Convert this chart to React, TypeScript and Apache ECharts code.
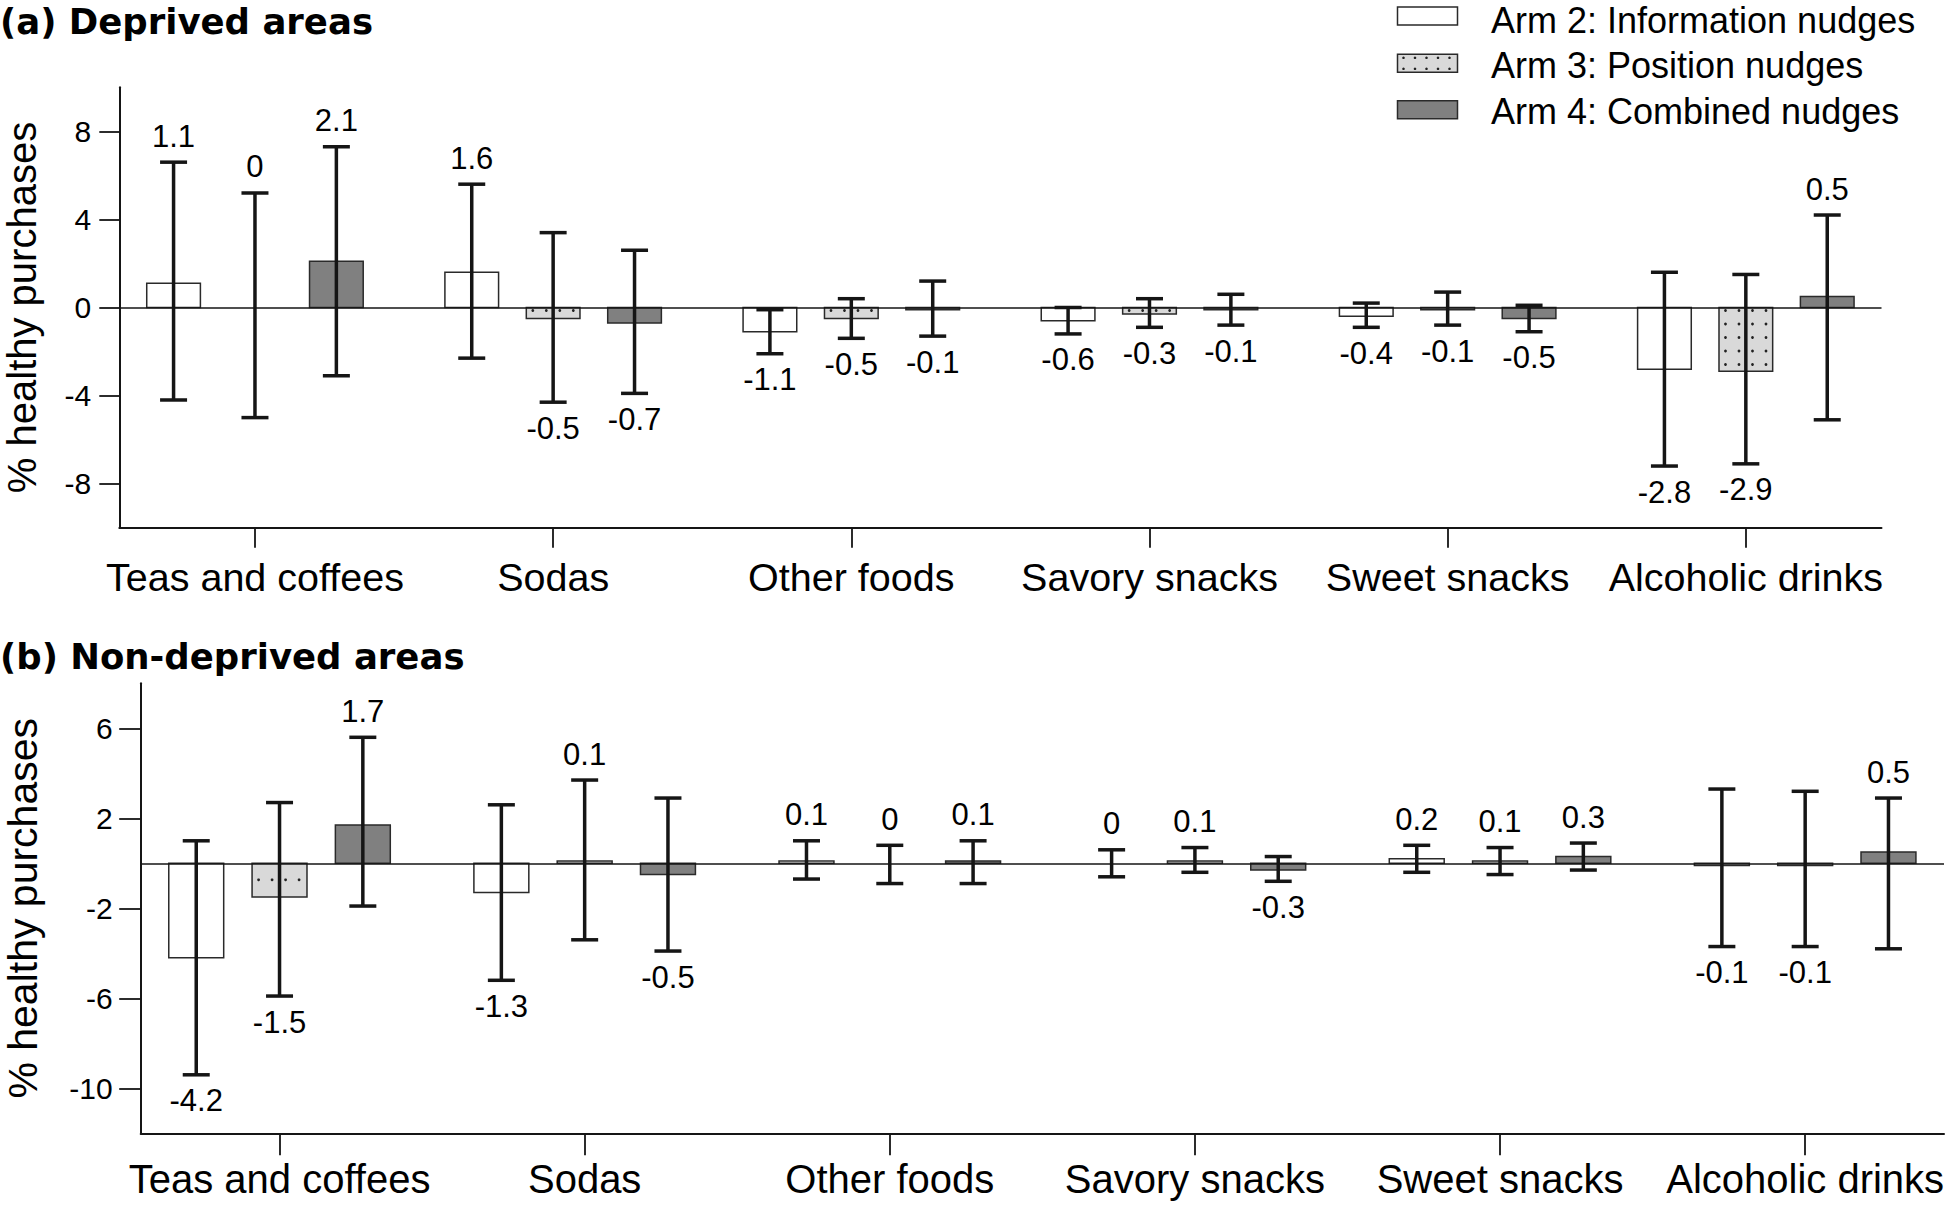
import React, { useEffect, useRef } from "react";
import * as echarts from "echarts";

// ---------- data ----------
const categories = [
  "Teas and coffees",
  "Sodas",
  "Other foods",
  "Savory snacks",
  "Sweet snacks",
  "Alcoholic drinks",
];
const armNames = [
  "Arm 2: Information nudges",
  "Arm 3: Position nudges",
  "Arm 4: Combined nudges",
];
const panelTitles = ["(a) Deprived areas", "(b) Non-deprived areas"];
const yTitle = "% healthy purchases";
const deprivedTicks = [-8, -4, 0, 4, 8];
const nonDeprivedTicks = [-10, -6, -2, 2, 6];

// (a) Deprived areas
const arm2Deprived = [1.1, 1.6, -1.1, -0.6, -0.4, -2.8];
const arm2DeprivedLow = [-4.2, -2.3, -2.1, -1.2, -0.9, -7.2];
const arm2DeprivedHigh = [6.6, 5.6, -0.1, 0.0, 0.2, 1.6];
const arm3Deprived = [0, -0.5, -0.5, -0.3, -0.1, -2.9];
const arm3DeprivedLow = [-5.0, -4.3, -1.4, -0.9, -0.8, -7.1];
const arm3DeprivedHigh = [5.2, 3.4, 0.4, 0.4, 0.7, 1.5];
const arm4Deprived = [2.1, -0.7, -0.1, -0.1, -0.5, 0.5];
const arm4DeprivedLow = [-3.1, -3.9, -1.3, -0.8, -1.1, -5.1];
const arm4DeprivedHigh = [7.3, 2.6, 1.2, 0.6, 0.1, 4.2];

// (b) Non-deprived areas
const arm2NonDeprived = [-4.2, -1.3, 0.1, 0, 0.2, -0.1];
const arm2NonDeprivedLow = [-9.4, -5.2, -0.7, -0.6, -0.4, -3.7];
const arm2NonDeprivedHigh = [1.0, 2.6, 1.0, 0.6, 0.8, 3.3];
const arm3NonDeprived = [-1.5, 0.1, 0, 0.1, 0.1, -0.1];
const arm3NonDeprivedLow = [-5.9, -3.4, -0.9, -0.4, -0.5, -3.7];
const arm3NonDeprivedHigh = [2.7, 3.7, 0.8, 0.7, 0.7, 3.2];
const arm4NonDeprived = [1.7, -0.5, 0.1, -0.3, 0.3, 0.5];
const arm4NonDeprivedLow = [-1.9, -3.9, -0.9, -0.8, -0.3, -3.8];
const arm4NonDeprivedHigh = [5.6, 2.9, 1.0, 0.3, 0.9, 2.9];

// ---------- styling / layout ----------
const FONT = "'Liberation Sans', Arial, Helvetica, sans-serif";
const TITLE_FONT = "'DejaVu Sans', 'Liberation Sans', Arial, sans-serif";
const INK = "#151515";
const FILLS = ["#ffffff", "#d9d9d9", "#808080"];
const X_MIN = -0.455;
const X_MAX = 5.455;
const ARM_OFFSETS = [-0.273, 0, 0.273];
const BAR_WIDTH = 0.18;
const CAP_HALF = 13.5;
const LABEL_GAP = 26;
const VALUE_FONT = 31;
const TICK_FONT = 30;

const panelLayout = [
  {
    grid: { left: 119.3, top: 87.3, width: 1762.2, height: 440.4 },
    yMin: -10, yMax: 10, ticks: deprivedTicks,
    catFont: 39.5, catMargin: 29, xTickLen: 20, yTickLen: 20,
    nameFont: 40, nameGap: 77, titleY: 21,
  },
  {
    grid: { left: 140.7, top: 683.3, width: 1803.3, height: 450 },
    yMin: -12, yMax: 8, ticks: nonDeprivedTicks,
    catFont: 40, catMargin: 26, xTickLen: 22, yTickLen: 21.5,
    nameFont: 41, nameGap: 97, titleY: 656,
  },
];

const panelData = [
  [
    { v: arm2Deprived, lo: arm2DeprivedLow, hi: arm2DeprivedHigh },
    { v: arm3Deprived, lo: arm3DeprivedLow, hi: arm3DeprivedHigh },
    { v: arm4Deprived, lo: arm4DeprivedLow, hi: arm4DeprivedHigh },
  ],
  [
    { v: arm2NonDeprived, lo: arm2NonDeprivedLow, hi: arm2NonDeprivedHigh },
    { v: arm3NonDeprived, lo: arm3NonDeprivedLow, hi: arm3NonDeprivedHigh },
    { v: arm4NonDeprived, lo: arm4NonDeprivedLow, hi: arm4NonDeprivedHigh },
  ],
];

function dotsInRect(x0: number, x1: number, yStart: number, yEnd: number, dir: number) {
  const out: any[] = [];
  for (let y = yStart + dir * 3; dir > 0 ? y < yEnd - 2 : y > yEnd + 2; y += dir * 13.5) {
    for (let x = x0 + 6.5; x < x1 - 3; x += 13.5) {
      out.push({
        type: "circle",
        shape: { cx: x, cy: y, r: 1.4 },
        style: { fill: "#222" },
        silent: true,
      });
    }
  }
  return out;
}

function makeRenderItem(arm: number) {
  return (params: any, api: any) => {
    const cat = api.value(0);
    const val = api.value(1);
    const lo = api.value(2);
    const hi = api.value(3);
    const xPos = cat + ARM_OFFSETS[arm];
    const p0 = api.coord([xPos, 0]);
    const xc = p0[0];
    const y0 = p0[1];
    const yv = api.coord([xPos, val])[1];
    const yLo = api.coord([xPos, lo])[1];
    const yHi = api.coord([xPos, hi])[1];
    const bw = api.size([BAR_WIDTH, 0])[0];
    const children: any[] = [];
    if (Math.abs(val) > 1e-9) {
      children.push({
        type: "rect",
        shape: { x: xc - bw / 2, y: Math.min(y0, yv), width: bw, height: Math.abs(yv - y0) },
        style: { fill: FILLS[arm], stroke: "#2a2a2a", lineWidth: 1.5 },
      });
      if (arm === 1 && Math.abs(yv - y0) > 5) {
        const dir = yv > y0 ? 1 : -1;
        children.push(...dotsInRect(xc - bw / 2, xc + bw / 2, y0, yv, dir));
      }
    }
    const lineStyle = { stroke: INK, lineWidth: 3.5 };
    children.push({ type: "line", shape: { x1: xc, y1: yLo, x2: xc, y2: yHi }, style: lineStyle });
    children.push({ type: "line", shape: { x1: xc - CAP_HALF, y1: yLo, x2: xc + CAP_HALF, y2: yLo }, style: lineStyle });
    children.push({ type: "line", shape: { x1: xc - CAP_HALF, y1: yHi, x2: xc + CAP_HALF, y2: yHi }, style: lineStyle });
    const labelY = val >= 0 ? yHi - LABEL_GAP : yLo + LABEL_GAP;
    children.push({
      type: "text",
      style: {
        text: String(val),
        x: xc,
        y: labelY,
        align: "center",
        textAlign: "center",
        verticalAlign: "middle",
        textVerticalAlign: "middle",
        fontSize: VALUE_FONT,
        fontFamily: FONT,
        fill: "#000",
      },
    });
    return { type: "group", children };
  };
}

function buildOption() {
  const grid = panelLayout.map((p) => ({ ...p.grid, containLabel: false, outerBoundsMode: "none" }));
  const xAxis = panelLayout.map((p, i) => ({
    type: "value",
    gridIndex: i,
    min: X_MIN,
    max: X_MAX,
    axisLine: { show: true, onZero: false, lineStyle: { color: INK, width: 2 } },
    axisTick: {
      show: true,
      length: p.xTickLen,
      customValues: categories.map((_, k) => k),
      lineStyle: { color: INK, width: 1.8 },
    },
    axisLabel: {
      show: true,
      customValues: categories.map((_, k) => k),
      formatter: (v: number) => categories[Math.round(v)] ?? "",
      fontSize: p.catFont,
      margin: p.catMargin,
      color: "#000",
      fontFamily: FONT,
    },
    splitLine: { show: false },
  }));
  const yAxis = panelLayout.map((p, i) => ({
    type: "value",
    gridIndex: i,
    min: p.yMin,
    max: p.yMax,
    axisLine: { show: true, onZero: false, lineStyle: { color: INK, width: 2 } },
    axisTick: {
      show: true,
      length: p.yTickLen,
      customValues: p.ticks,
      lineStyle: { color: INK, width: 1.8 },
    },
    axisLabel: {
      show: true,
      customValues: p.ticks,
      fontSize: TICK_FONT,
      margin: 28,
      color: "#000",
      fontFamily: FONT,
    },
    splitLine: { show: false },
    name: yTitle,
    nameLocation: "middle",
    nameGap: p.nameGap,
    nameTextStyle: { fontSize: p.nameFont, color: "#000", fontFamily: FONT },
  }));

  const series: any[] = [];
  panelData.forEach((arms, pi) => {
    arms.forEach((arm, ai) => {
      series.push({
        type: "custom",
        name: armNames[ai],
        xAxisIndex: pi,
        yAxisIndex: pi,
        renderItem: makeRenderItem(ai),
        encode: { x: 0, y: 1 },
        data: categories.map((_, k) => [k, arm.v[k], arm.lo[k], arm.hi[k]]),
        clip: false,
        z: 2 + ai,
        markLine:
          ai === 0
            ? {
                silent: true,
                symbol: "none",
                label: { show: false },
                lineStyle: { color: INK, width: 1.5, type: "solid" },
                data: [{ yAxis: 0 }],
                z: 10,
              }
            : undefined,
      });
    });
  });

  // legend drawn as graphic (swatch + real text)
  const legendBoxY = [7, 54.3, 100.7];
  const legendTextY = [20, 65.5, 111.5];
  const legendEls: any[] = [];
  armNames.forEach((nm, i) => {
    legendEls.push({
      type: "rect",
      shape: { x: 1397.5, y: legendBoxY[i], width: 60, height: 18 },
      style: { fill: FILLS[i], stroke: "#2a2a2a", lineWidth: 1.5 },
    });
    if (i === 1) {
      for (let r = 0; r < 2; r++) {
        for (let c = 0; c < 5; c++) {
          legendEls.push({
            type: "circle",
            shape: { cx: 1403.5 + c * 11.5, cy: legendBoxY[i] + 3.5 + r * 11, r: 1.3 },
            style: { fill: "#222" },
          });
        }
      }
    }
    legendEls.push({
      type: "text",
      x: 1491,
      y: legendTextY[i],
      style: {
        text: nm,
        align: "left",
        textAlign: "left",
        verticalAlign: "middle",
        textVerticalAlign: "middle",
        fontSize: 36,
        fontFamily: FONT,
        fill: "#000",
      },
    });
  });

  const titleEls = panelTitles.map((t, i) => ({
    type: "text",
    x: 0,
    y: panelLayout[i].titleY,
    style: {
      text: t,
      align: "left",
      textAlign: "left",
      verticalAlign: "middle",
      textVerticalAlign: "middle",
      fontSize: 35.5,
      fontWeight: "bold",
      fontFamily: TITLE_FONT,
      fill: "#000",
    },
  }));

  return {
    animation: false,
    backgroundColor: "#ffffff",
    grid,
    xAxis,
    yAxis,
    series,
    graphic: { elements: [...titleEls, ...legendEls] },
  };
}

export default function App() {
  const ref = useRef<HTMLDivElement | null>(null);
  useEffect(() => {
    if (!ref.current) return;
    const chart = echarts.init(ref.current, null, { renderer: "svg" });
    chart.setOption(buildOption() as any);
    return () => chart.dispose();
  }, []);
  return (
    <div
      ref={ref}
      style={{ position: "fixed", left: 0, top: 0, width: 1946, height: 1206, background: "#fff" }}
    />
  );
}
